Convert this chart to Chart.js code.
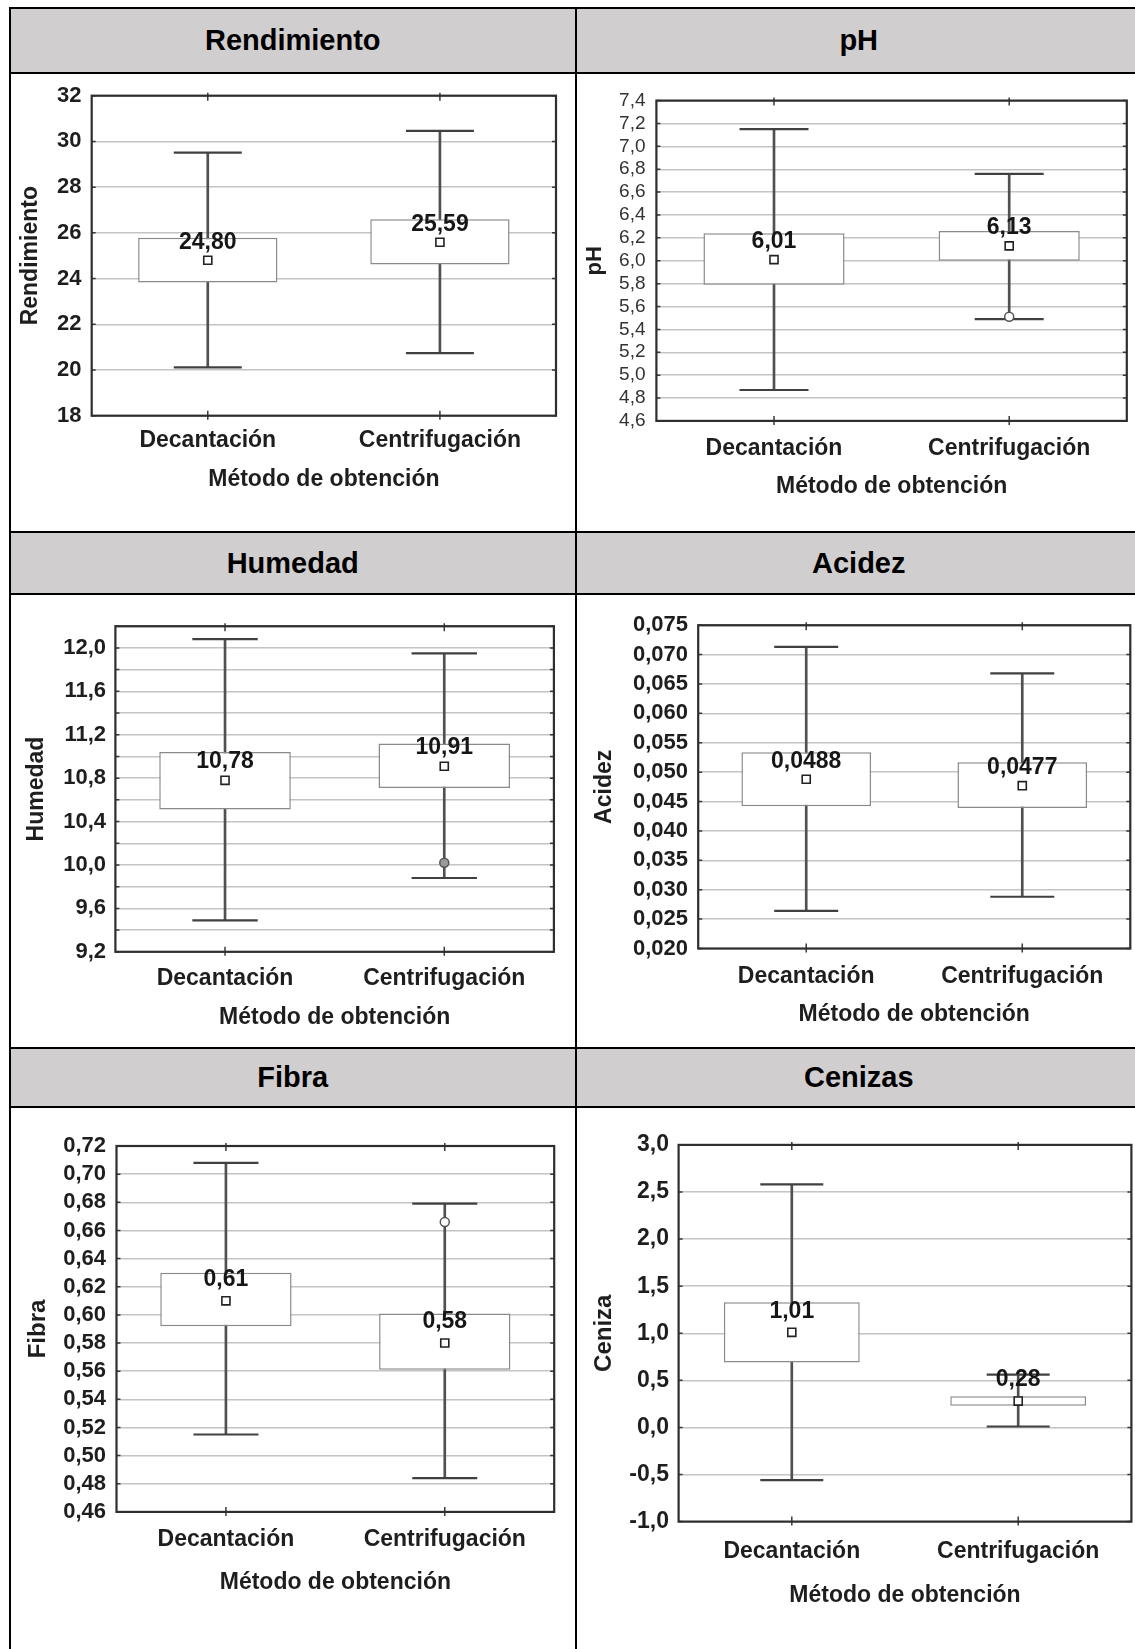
<!DOCTYPE html>
<html>
<head>
<meta charset="utf-8">
<script src="https://cdn.jsdelivr.net/npm/chart.js@4.4.1/dist/chart.umd.min.js"></script>
<style>
html,body{margin:0;padding:0;background:#fff;}
body{width:1135px;height:1649px;position:relative;overflow:hidden;font-family:"Liberation Sans",Arial,Helvetica,sans-serif;}
.hdr{position:absolute;background:#d0cece;display:flex;align-items:center;justify-content:center;font-weight:bold;font-size:29px;color:#000;}
.ln{position:absolute;background:#000;z-index:5;}
canvas{position:absolute;}
</style>
</head>
<body>
<div class="hdr" style="left:11px;top:9px;width:563.5px;height:63px;">Rendimiento</div>
<div class="hdr" style="left:576.5px;top:9px;width:564.5px;height:63px;">pH</div>
<div class="hdr" style="left:11px;top:533px;width:563.5px;height:60px;">Humedad</div>
<div class="hdr" style="left:576.5px;top:533px;width:564.5px;height:60px;">Acidez</div>
<div class="hdr" style="left:11px;top:1049px;width:563.5px;height:57px;">Fibra</div>
<div class="hdr" style="left:576.5px;top:1049px;width:564.5px;height:57px;">Cenizas</div>

<div class="ln" style="left:8.5px;top:7px;width:2.5px;height:1642px;"></div>
<div class="ln" style="left:574.5px;top:7px;width:2px;height:1642px;"></div>
<div class="ln" style="left:8.5px;top:7px;width:1127px;height:2px;"></div>
<div class="ln" style="left:8.5px;top:72px;width:1127px;height:2px;"></div>
<div class="ln" style="left:8.5px;top:531px;width:1127px;height:2px;"></div>
<div class="ln" style="left:8.5px;top:593px;width:1127px;height:2px;"></div>
<div class="ln" style="left:8.5px;top:1047px;width:1127px;height:2px;"></div>
<div class="ln" style="left:8.5px;top:1106px;width:1127px;height:2px;"></div>

<canvas id="cRend"></canvas>
<canvas id="cPh"></canvas>
<canvas id="cHum"></canvas>
<canvas id="cAc"></canvas>
<canvas id="cFib"></canvas>
<canvas id="cCen"></canvas>

<script>
// ---------------- DATA ----------------
const categories = ['Decantación', 'Centrifugación'];
const xAxisTitle = 'Método de obtención';

// Rendimiento
const rendLowWhisker  = [20.11, 20.74];
const rendBoxBottom   = [23.83, 24.62];
const rendBoxTop      = [25.79, 26.59];
const rendHighWhisker = [29.51, 30.46];
const rendMean        = [24.80, 25.59];
const rendOutlier     = [null, null];
const rendScale       = [18, 32, 2];        // min, max, step

// pH
const phLowWhisker  = [4.87, 5.49];
const phBoxBottom   = [5.79, 6.00];
const phBoxTop      = [6.24, 6.26];
const phHighWhisker = [7.15, 6.76];
const phMean        = [6.01, 6.13];
const phOutlier     = [null, 5.51];
const phScale       = [4.6, 7.4, 0.2];

// Humedad
const humLowWhisker  = [9.49, 9.88];
const humBoxBottom   = [10.51, 10.71];
const humBoxTop      = [11.04, 11.12];
const humHighWhisker = [12.08, 11.95];
const humMean        = [10.78, 10.91];
const humOutlier     = [null, 10.02];
const humScale       = [9.2, 12.2, 0.2];

// Acidez
const acLowWhisker  = [0.0264, 0.0288];
const acBoxBottom   = [0.0442, 0.0439];
const acBoxTop      = [0.0534, 0.0517];
const acHighWhisker = [0.0713, 0.0668];
const acMean        = [0.0488, 0.0477];
const acOutlier     = [null, null];
const acScale       = [0.020, 0.075, 0.005];

// Fibra
const fibLowWhisker  = [0.515, 0.484];
const fibBoxBottom   = [0.592, 0.561];
const fibBoxTop      = [0.630, 0.601];
const fibHighWhisker = [0.708, 0.679];
const fibMean        = [0.61, 0.58];
const fibOutlier     = [null, 0.666];
const fibScale       = [0.46, 0.72, 0.02];

// Cenizas
const cenLowWhisker  = [-0.56, 0.01];
const cenBoxBottom   = [0.69, 0.23];
const cenBoxTop      = [1.33, 0.33];
const cenHighWhisker = [2.58, 0.56];
const cenMean        = [1.01, 0.28];
const cenOutlier     = [null, null];
const cenScale       = [-1.0, 3.0, 0.5];

// ---------------- DRAWING ----------------
Chart.defaults.font.family = '"Liberation Sans", Arial, Helvetica, sans-serif';
Chart.defaults.color = '#1e1e1e';

function fmt(v, d) { return v.toFixed(d).replace('.', ','); }

const frameTicks = {
  id: 'frameTicks',
  afterDatasetsDraw(chart) {
    const {ctx, chartArea: a} = chart;
    const x = chart.scales.x, y = chart.scales.y;
    ctx.save();
    ctx.strokeStyle = '#3a3a3a';
    ctx.lineWidth = 1.5;
    ctx.beginPath();
    y.ticks.forEach((t, i) => {
      const py = y.getPixelForTick(i);
      ctx.moveTo(a.left, py); ctx.lineTo(a.left + 4, py);
      ctx.moveTo(a.right - 4, py); ctx.lineTo(a.right, py);
    });
    x.ticks.forEach((t, i) => {
      const px = x.getPixelForTick(i);
      ctx.moveTo(px, a.top - 3); ctx.lineTo(px, a.top + 5);
      ctx.moveTo(px, a.bottom - 5); ctx.lineTo(px, a.bottom + 4);
    });
    ctx.stroke();
    ctx.lineWidth = 2.2;
    ctx.strokeStyle = '#2e2e2e';
    ctx.strokeRect(a.left, a.top, a.right - a.left, a.bottom - a.top);
    ctx.restore();
  }
};

const meanLabels = {
  id: 'meanLabels',
  afterDraw(chart, args, o) {
    const ds = chart.data.datasets[5];
    const meta = chart.getDatasetMeta(5);
    const ctx = chart.ctx;
    ctx.save();
    ctx.font = 'bold ' + o.size + 'px "Liberation Sans", Arial, sans-serif';
    ctx.fillStyle = '#161616';
    ctx.textAlign = 'center';
    ctx.textBaseline = 'middle';
    meta.data.forEach((pt, i) => {
      const v = ds.data[i];
      if (v == null) return;
      ctx.fillText(fmt(v, o.decimals), pt.x, pt.y - o.offset);
    });
    ctx.restore();
  }
};

function boxPanel(id, d, L) {
  const cv = document.getElementById(id);
  cv.width = L.cw; cv.height = L.ch;
  cv.style.left = L.cl + 'px'; cv.style.top = L.ct + 'px';
  cv.style.width = L.cw + 'px'; cv.style.height = L.ch + 'px';

  const yAxisW = L.L - L.cl;
  const padTop = L.T - L.ct;
  const padRight = L.cl + L.cw - L.R;
  const xAxisH = L.ct + L.ch - L.B;
  const yTickPad = L.L - L.yLabelRight;
  const yTitlePad = L.yTitleX - L.cl - L.yTitleSize / 2;
  const xTickPad = L.xLabelY - L.B - 23 / 2;
  const xTitlePad = L.ct + L.ch - L.xTitleY - 23 / 2;

  const capStyle = {type: 'line', showLine: false, pointStyle: 'line',
    pointRadius: L.cap, pointBorderColor: '#404040', pointBorderWidth: 2.2, order: 3};

  new Chart(cv, {
    type: 'bar',
    data: {
      labels: categories,
      datasets: [
        {type: 'bar', data: d.lo.map((v, i) => [v, d.hi[i]]), backgroundColor: '#505050',
          barThickness: 2, grouped: false, borderWidth: 0, order: 5},
        {type: 'bar', data: d.q1.map((v, i) => [v, d.q3[i]]), backgroundColor: '#ffffff',
          borderColor: '#8a8a8a', borderWidth: 1.5, borderSkipped: false,
          barPercentage: 0.6, categoryPercentage: 1, grouped: false, order: 4},
        Object.assign({data: d.hi}, capStyle),
        Object.assign({data: d.lo}, capStyle),
        {type: 'line', data: d.out, showLine: false, pointStyle: 'circle', pointRadius: 4.5,
          pointBackgroundColor: L.outFill, pointBorderColor: '#555', pointBorderWidth: 1.5, order: 2},
        {type: 'line', data: d.mean, showLine: false, pointStyle: 'rect', pointRadius: 5.7,
          pointBackgroundColor: '#ffffff', pointBorderColor: '#222', pointBorderWidth: 1.6, order: 1}
      ]
    },
    options: {
      responsive: false, animation: false, devicePixelRatio: 1, events: [],
      layout: {autoPadding: false, padding: {left: 0, top: padTop, right: padRight, bottom: 0}},
      plugins: {
        legend: {display: false}, tooltip: {enabled: false},
        meanLabels: {size: 23, decimals: L.meanDec, offset: L.labOff}
      },
      scales: {
        x: {
          type: 'category', offset: true,
          grid: {display: false, drawTicks: false}, border: {display: false},
          ticks: {padding: xTickPad, autoSkip: false, maxRotation: 0, minRotation: 0,
            font: {size: 23, weight: 'bold', lineHeight: 1}, color: '#1e1e1e'},
          title: {display: true, text: xAxisTitle, color: '#1e1e1e',
            font: {size: 23, weight: 'bold', lineHeight: 1}, padding: {top: 0, bottom: xTitlePad}},
          afterFit: s => { s.height = xAxisH; }
        },
        y: {
          min: d.scale[0], max: d.scale[1],
          grid: {color: '#c4c4c4', lineWidth: 1.4, drawTicks: false}, border: {display: false},
          ticks: {stepSize: d.scale[2], autoSkip: false, padding: yTickPad, color: L.tickColor,
            font: {size: L.tickSize, weight: L.tickWeight, lineHeight: 1},
            callback: v => {
              const k = Math.round((v - d.scale[0]) / d.scale[2]);
              if (L.labelEvery > 1 && k % L.labelEvery !== 0) return '';
              return fmt(v, L.tickDec);
            }},
          title: {display: true, text: d.yTitle, color: '#1e1e1e',
            font: {size: L.yTitleSize, weight: 'bold', lineHeight: 1}, padding: {top: yTitlePad, bottom: 0}},
          afterFit: s => { s.width = yAxisW; }
        }
      }
    },
    plugins: [frameTicks, meanLabels]
  });
}

boxPanel('cRend',
  {lo: rendLowWhisker, q1: rendBoxBottom, q3: rendBoxTop, hi: rendHighWhisker, mean: rendMean, out: rendOutlier, scale: rendScale, yTitle: 'Rendimiento'},
  {cl: 11, ct: 74, cw: 564, ch: 457, L: 91.7, T: 95.7, R: 556, B: 415.7,
   yLabelRight: 81.5, yTitleX: 31, yTitleSize: 23, xLabelY: 441, xTitleY: 480,
   tickSize: 22, tickWeight: 'bold', tickColor: '#1e1e1e', tickDec: 0, labelEvery: 1,
   meanDec: 2, labOff: 18, cap: 34, outFill: '#fff'});

boxPanel('cPh',
  {lo: phLowWhisker, q1: phBoxBottom, q3: phBoxTop, hi: phHighWhisker, mean: phMean, out: phOutlier, scale: phScale, yTitle: 'pH'},
  {cl: 577, ct: 74, cw: 558, ch: 457, L: 656.4, T: 100.6, R: 1126.8, B: 420.9,
   yLabelRight: 645.5, yTitleX: 594.6, yTitleSize: 22, xLabelY: 449, xTitleY: 487,
   tickSize: 19, tickWeight: 'normal', tickColor: '#333', tickDec: 1, labelEvery: 1,
   meanDec: 2, labOff: 18, cap: 34.5, outFill: '#fff'});

boxPanel('cHum',
  {lo: humLowWhisker, q1: humBoxBottom, q3: humBoxTop, hi: humHighWhisker, mean: humMean, out: humOutlier, scale: humScale, yTitle: 'Humedad'},
  {cl: 11, ct: 595, cw: 564, ch: 452, L: 115.4, T: 626.2, R: 553.9, B: 951.8,
   yLabelRight: 106, yTitleX: 37, yTitleSize: 23, xLabelY: 978.5, xTitleY: 1018,
   tickSize: 22, tickWeight: 'bold', tickColor: '#1e1e1e', tickDec: 1, labelEvery: 2,
   meanDec: 2, labOff: 19, cap: 32.7, outFill: '#9a9a9a'});

boxPanel('cAc',
  {lo: acLowWhisker, q1: acBoxBottom, q3: acBoxTop, hi: acHighWhisker, mean: acMean, out: acOutlier, scale: acScale, yTitle: 'Acidez'},
  {cl: 577, ct: 595, cw: 558, ch: 452, L: 698.2, T: 625.2, R: 1130.3, B: 948.5,
   yLabelRight: 688, yTitleX: 605, yTitleSize: 23, xLabelY: 976.5, xTitleY: 1015,
   tickSize: 22, tickWeight: 'bold', tickColor: '#1e1e1e', tickDec: 3, labelEvery: 1,
   meanDec: 4, labOff: 18, cap: 32, outFill: '#fff'});

boxPanel('cFib',
  {lo: fibLowWhisker, q1: fibBoxBottom, q3: fibBoxTop, hi: fibHighWhisker, mean: fibMean, out: fibOutlier, scale: fibScale, yTitle: 'Fibra'},
  {cl: 11, ct: 1108, cw: 564, ch: 541, L: 116.5, T: 1146, R: 554.2, B: 1511.9,
   yLabelRight: 106, yTitleX: 38, yTitleSize: 24, xLabelY: 1540, xTitleY: 1583,
   tickSize: 22, tickWeight: 'bold', tickColor: '#1e1e1e', tickDec: 2, labelEvery: 1,
   meanDec: 2, labOff: 21, cap: 32.5, outFill: '#fff'});

boxPanel('cCen',
  {lo: cenLowWhisker, q1: cenBoxBottom, q3: cenBoxTop, hi: cenHighWhisker, mean: cenMean, out: cenOutlier, scale: cenScale, yTitle: 'Ceniza'},
  {cl: 577, ct: 1108, cw: 558, ch: 541, L: 678.6, T: 1144.9, R: 1131.4, B: 1521.6,
   yLabelRight: 669, yTitleX: 604, yTitleSize: 24, xLabelY: 1551.5, xTitleY: 1596,
   tickSize: 23, tickWeight: 'bold', tickColor: '#1e1e1e', tickDec: 1, labelEvery: 1,
   meanDec: 2, labOff: 21, cap: 31.5, outFill: '#fff'});
</script>
</body>
</html>
